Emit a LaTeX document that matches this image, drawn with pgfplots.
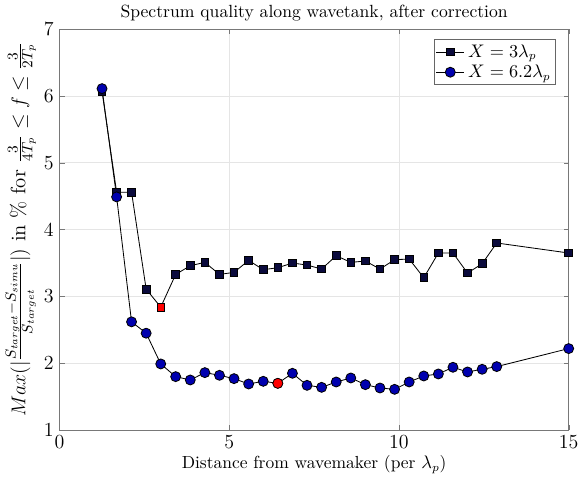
\documentclass[border=0pt]{standalone}
\usepackage{pgfplots}
\pgfplotsset{compat=1.18}
\definecolor{sqfill}{RGB}{10,10,60}
\definecolor{cifill}{RGB}{0,0,175}
\definecolor{axgray}{RGB}{120,120,120}
\begin{document}
\begin{tikzpicture}
\begin{axis}[
  scale only axis,
  width=306pt, height=241pt,
  xmin=0, xmax=15, ymin=1, ymax=7,
  xtick={0,5,10,15}, ytick={1,2,3,4,5,6,7},
  grid=major,
  major grid style={draw=black!10, line width=0.4pt},
  axis line style={draw=axgray, line width=0.5pt},
  tick style={draw=axgray},
  tick align=inside,
  major tick length=3pt,
  tick label style={font=\large},
  title={Spectrum quality along wavetank, after correction},
  title style={yshift=-5pt, font=\fontsize{10.6}{12}\selectfont},
  xlabel={Distance from wavemaker (per $\lambda_p$)},
  xlabel style={font=\fontsize{10.5}{12}\selectfont, yshift=3pt},
  ylabel={$Max(|\frac{S_{target}-S_{simu}}{S_{target}}|)$ in \% for $\frac{3}{4T_p} \leq f \leq \frac{3}{2T_p}$},
  ylabel style={yshift=-2pt, font=\fontsize{12.5}{14}\selectfont},
  legend cell align=left,
  legend style={draw=black!60, font=\fontsize{10.5}{12}\selectfont, inner sep=1pt, row sep=-1pt, at={(0.975,0.975)}, anchor=north east},
]
\addplot[black, line width=0.5pt, mark=square*, mark size=2.3pt, mark options={fill=sqfill, draw=black}] coordinates {
(1.25,6.07) (1.68,4.56) (2.12,4.56) (2.55,3.11) (2.98,2.84) (3.42,3.33) (3.85,3.46) (4.28,3.51) (4.71,3.33) (5.14,3.36)
(5.57,3.54) (6.00,3.40) (6.43,3.43) (6.86,3.50) (7.29,3.47) (7.72,3.41) (8.15,3.61) (8.58,3.51) (9.01,3.53) (9.44,3.41)
(9.87,3.55) (10.30,3.56) (10.73,3.28) (11.16,3.65) (11.59,3.65) (12.02,3.35) (12.45,3.49) (12.88,3.80) (15,3.65)
};
\addlegendentry{$X = 3\lambda_p$}
\addplot[black, line width=0.5pt, mark=*, mark size=3pt, mark options={fill=cifill, draw=black}] coordinates {
(1.25,6.11) (1.68,4.49) (2.12,2.62) (2.55,2.45) (2.98,1.99) (3.42,1.80) (3.85,1.75) (4.28,1.86) (4.71,1.82) (5.14,1.77)
(5.57,1.69) (6.00,1.73) (6.43,1.70) (6.86,1.85) (7.29,1.67) (7.72,1.64) (8.15,1.72) (8.58,1.78) (9.01,1.68) (9.44,1.63)
(9.87,1.61) (10.30,1.72) (10.73,1.81) (11.16,1.84) (11.59,1.94) (12.02,1.87) (12.45,1.91) (12.88,1.95) (15,2.22)
};
\addlegendentry{$X = 6.2\lambda_p$}
\addplot[only marks, forget plot, mark=square*, mark size=2.3pt, mark options={fill=red, draw=black}] coordinates {(2.98,2.84)};
\addplot[only marks, forget plot, mark=*, mark size=3pt, mark options={fill=red, draw=black}] coordinates {(6.43,1.70)};
\end{axis}
\end{tikzpicture}
\end{document}
